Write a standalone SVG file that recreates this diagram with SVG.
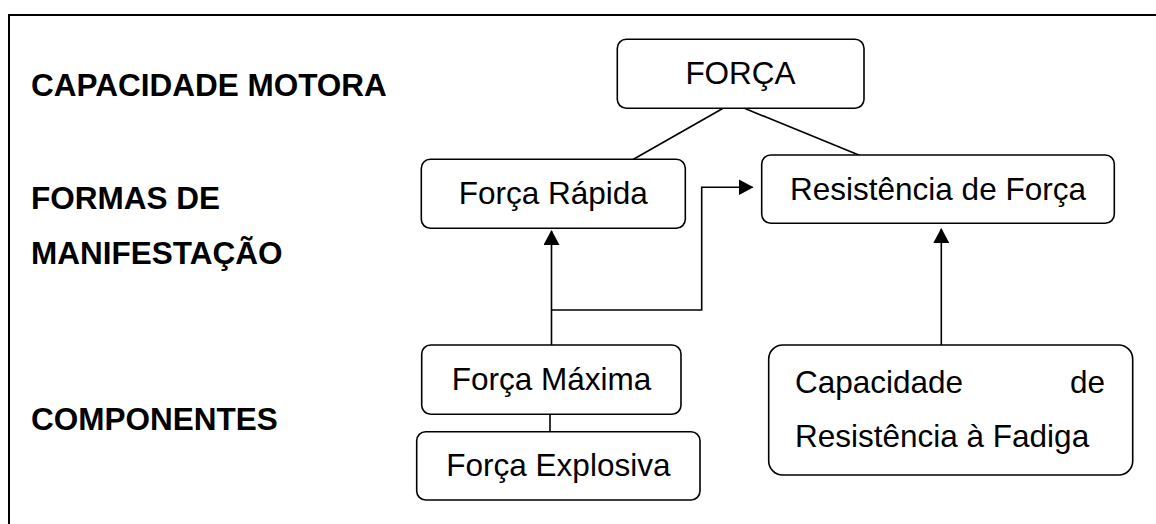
<svg xmlns="http://www.w3.org/2000/svg" width="1156" height="524" viewBox="0 0 1156 524">
  <style>
    .box { fill: #ffffff; stroke: #000000; stroke-width: 1.6; }
    .lbl { font-family: "Liberation Sans", Arial, sans-serif; font-size: 31.5px; fill: #000000; }
    .mid { text-anchor: middle; }
    .hdr { font-family: "Liberation Sans", Arial, sans-serif; font-size: 31.5px; font-weight: bold; fill: #000000; }
    .con { fill: none; stroke: #000000; stroke-width: 1.6; }
  </style>
  <defs>
    <marker id="arr" viewBox="0 0 15 16" refX="14" refY="8" markerWidth="15" markerHeight="16" markerUnits="userSpaceOnUse" orient="auto">
      <path d="M0,0 L15,8 L0,16 z" fill="#000000"/>
    </marker>
  </defs>
  <rect width="1156" height="524" fill="#ffffff"/>
  <g id="frame">
    <path d="M9,524 L9,15 L1156,15" fill="none" stroke="#000000" stroke-width="2"/>
  </g>
  <g id="levels">
    <text class="hdr" x="31" y="96">CAPACIDADE MOTORA</text>
    <text class="hdr" x="31" y="209">FORMAS DE</text>
    <text class="hdr" x="31" y="264">MANIFESTAÇÃO</text>
    <text class="hdr" x="31" y="430">COMPONENTES</text>
  </g>
  <g id="connectors">
    <line class="con" x1="722.7" y1="108.5" x2="633" y2="159.5"/>
    <line class="con" x1="745" y1="108.5" x2="860" y2="155.5"/>
    <line class="con" x1="551.5" y1="345" x2="551.5" y2="231" marker-end="url(#arr)"/>
    <polyline class="con" points="551.5,310 701.7,310 701.7,187.3 752.5,187.3" marker-end="url(#arr)"/>
    <line class="con" x1="941.3" y1="345" x2="941.3" y2="229" marker-end="url(#arr)"/>
    <line class="con" x1="550" y1="414" x2="550" y2="432"/>
  </g>
  <g id="n-forca">
    <rect class="box" x="617.3" y="39.3" width="246.7" height="69" rx="9"/>
    <text class="lbl mid" x="740.5" y="84">FORÇA</text>
  </g>
  <g id="n-forca-rapida">
    <rect class="box" x="421.3" y="159.3" width="264" height="69" rx="9"/>
    <text class="lbl mid" x="553.3" y="204">Força Rápida</text>
  </g>
  <g id="n-resistencia-forca">
    <rect class="box" x="761.7" y="155" width="352.6" height="68.3" rx="9"/>
    <text class="lbl mid" x="938" y="199.5">Resistência de Força</text>
  </g>
  <g id="n-forca-maxima">
    <rect class="box" x="421.7" y="345" width="259.3" height="69.3" rx="9"/>
    <text class="lbl mid" x="551.5" y="389.5">Força Máxima</text>
  </g>
  <g id="n-forca-explosiva">
    <rect class="box" x="416.7" y="431.7" width="283.3" height="68.3" rx="9"/>
    <text class="lbl mid" x="558.4" y="475.5">Força Explosiva</text>
  </g>
  <g id="n-capacidade-resistencia-fadiga">
    <rect class="box" x="768.7" y="345" width="364" height="130" rx="14"/>
    <text class="lbl" x="795" y="392.7">Capacidade</text>
    <text class="lbl" x="1105" y="392.7" text-anchor="end">de</text>
    <text class="lbl" x="795" y="446.7">Resistência à Fadiga</text>
  </g>
</svg>
